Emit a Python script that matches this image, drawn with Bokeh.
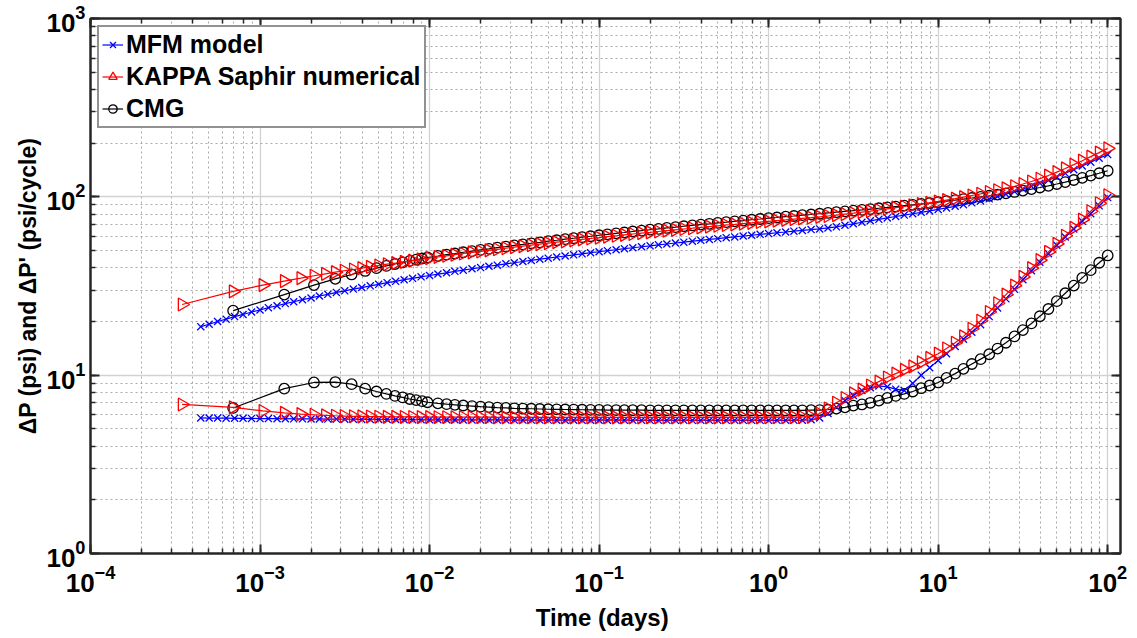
import numpy as np
from bokeh.plotting import figure
from bokeh.models import LogAxis, Legend, LegendItem, ColumnDataSource
from bokeh.embed import file_html
from bokeh.resources import INLINE

# ---------------- data ----------------
# Time grid of the MFM model (days)
T_MFM = [4.47e-4, 5.01e-4, 5.62e-4, 6.31e-4, 7.08e-4, 7.94e-4, 8.91e-4,
         1.00e-3, 1.12e-3, 1.26e-3, 1.41e-3, 1.58e-3, 1.78e-3, 2.00e-3, 2.24e-3, 2.51e-3, 2.82e-3,
         3.16e-3, 3.55e-3, 3.98e-3, 4.47e-3, 5.01e-3, 5.62e-3, 6.31e-3, 7.08e-3, 7.94e-3, 8.91e-3,
         0.0100, 0.0112, 0.0126, 0.0141, 0.0158, 0.0178, 0.0200, 0.0224, 0.0251, 0.0282,
         0.0316, 0.0355, 0.0398, 0.0447, 0.0501, 0.0562, 0.0631, 0.0708, 0.0794, 0.0891,
         0.100, 0.112, 0.126, 0.141, 0.158, 0.178, 0.200, 0.224, 0.251, 0.282,
         0.316, 0.355, 0.398, 0.447, 0.501, 0.562, 0.631, 0.708, 0.794, 0.891,
         1.00, 1.12, 1.26, 1.41, 1.58, 1.78, 2.00, 2.24, 2.51, 2.82,
         3.16, 3.55, 3.98, 4.47, 5.01, 5.62, 6.31, 7.08, 7.94, 8.91,
         10.0, 11.2, 12.6, 14.1, 15.8, 17.8, 20.0, 22.4, 25.1, 28.2,
         31.6, 35.5, 39.8, 44.7, 50.1, 56.2, 63.1, 70.8, 79.4, 89.1,
         100.0]

MFM_P = [18.7, 19.3, 20.0, 20.6, 21.3, 21.9, 22.6,
         23.2, 23.9, 24.5, 25.2, 25.8, 26.5, 27.1, 27.8, 28.4, 29.1,
         29.7, 30.4, 31.0, 31.7, 32.3, 33.0, 33.6, 34.3, 34.9, 35.6,
         36.2, 36.9, 37.5, 38.2, 38.8, 39.5, 40.1, 40.8, 41.4, 42.1,
         42.7, 43.4, 44.0, 44.7, 45.3, 46.0, 46.6, 47.3, 47.9, 48.6,
         49.2, 49.9, 50.5, 51.2, 51.8, 52.5, 53.1, 53.8, 54.4, 55.1,
         55.7, 56.4, 57.0, 57.7, 58.3, 59.0, 59.6, 60.3, 60.9, 61.6,
         62.2, 62.9, 63.5, 64.2, 64.8, 65.5, 66.1, 66.9, 67.9, 69.3,
         70.6, 72.0, 73.4, 74.8, 76.2, 77.6, 79.0, 80.4, 81.9, 83.4,
         85.0, 86.7, 88.5, 90.4, 92.5, 94.8, 97.4, 100.3, 103.5, 107.0,
         110.7, 114.7, 119.1, 124.0, 129.5, 135.5, 142.0, 149.0, 156.5, 164.5, 172.5]

MFM_D = [5.76, 5.75, 5.75, 5.74, 5.73, 5.73, 5.72, 5.71, 5.71, 5.70, 5.70,
         5.69, 5.69, 5.68, 5.68, 5.67, 5.67, 5.66, 5.66, 5.65, 5.65,
         5.64, 5.64, 5.64, 5.63, 5.63, 5.63, 5.62, 5.62, 5.62, 5.62,
         5.61, 5.61, 5.61, 5.61, 5.61, 5.60, 5.60, 5.60, 5.60, 5.60,
         5.60, 5.59, 5.59, 5.59, 5.59, 5.59, 5.59, 5.59, 5.59, 5.59,
         5.58, 5.58, 5.58, 5.58, 5.58, 5.58, 5.58, 5.58, 5.58, 5.58,
         5.58, 5.58, 5.58, 5.58, 5.58, 5.58, 5.58, 5.58, 5.58, 5.58,
         5.59, 5.62,
         5.75, 6.1, 6.6, 7.2, 7.7, 8.2, 8.5, 8.7, 8.6, 8.35, 8.2, 9.0,
         10.0, 11.0, 12.1, 13.2, 14.5, 15.9, 17.4, 19.2, 21.3, 23.8,
         26.8, 30.3, 34.3, 38.5, 43.0, 48.0, 53.5, 59.5, 66.0, 73.0,
         80.5, 89.0, 99.0]

KAPPA_T_EARLY = [3.47e-4, 6.94e-4, 1.04e-3, 1.39e-3, 1.74e-3, 2.08e-3, 2.43e-3, 2.78e-3, 3.13e-3]
KAPPA_T = KAPPA_T_EARLY + T_MFM[18:]

KAPPA_P = [24.9, 29.5, 32.0, 33.7, 35.0, 36.1, 37.0, 37.8, 38.5,
           39.1, 39.8, 40.5, 41.2, 41.9, 42.5, 43.2, 43.9, 44.6, 45.3,
           46.0, 46.7, 47.4, 48.1, 48.8, 49.4, 50.1, 50.8, 51.5, 52.2,
           52.9, 53.6, 54.3, 55.0, 55.7, 56.3, 57.0, 57.7, 58.4, 59.1,
           59.8, 60.5, 61.2, 61.9, 62.6, 63.2, 63.9, 64.6, 65.3, 66.0,
           66.7, 67.4, 68.1, 68.8, 69.5, 70.1, 70.8, 71.5, 72.2, 72.9,
           73.6, 74.3, 75.0, 75.7, 76.4, 77.2, 78.1, 79.0, 80.0, 81.0,
           82.1, 83.2, 84.4, 85.7, 87.0, 88.3, 89.7, 91.1, 92.6, 94.2,
           95.9, 97.7, 99.6, 101.7, 104.0, 106.4, 108.9, 111.6, 114.6, 118.0,
           121.9, 126.4, 131.6, 137.6, 144.3, 151.6, 159.5, 168.0, 177.0, 187.0]

KAPPA_D = [6.85, 6.6, 6.3, 6.15, 6.05, 6.0, 5.95, 5.92, 5.9,
           5.88, 5.87, 5.86, 5.85, 5.84, 5.84, 5.83, 5.83, 5.82, 5.82,
           5.81, 5.81, 5.81, 5.81, 5.81, 5.81, 5.81, 5.80, 5.80, 5.80,
           5.80, 5.80, 5.80, 5.80, 5.80, 5.80, 5.80, 5.80, 5.80, 5.80,
           5.80, 5.80, 5.80, 5.80, 5.80, 5.80, 5.80, 5.80, 5.80, 5.80,
           5.80, 5.80, 5.80, 5.80, 5.80, 5.80, 5.80, 5.80, 5.80, 5.81,
           5.81, 5.81, 5.82, 5.83, 5.85, 6.1, 6.5, 7.0, 7.45, 7.9,
           8.3, 8.75, 9.2, 9.7, 10.2, 10.7, 11.2, 11.8, 12.5, 13.2,
           14.1, 15.2, 16.5, 18.2, 20.2, 22.6, 25.3, 28.3, 31.8, 35.6,
           39.8, 44.2, 49.1, 54.5, 60.5, 67.0, 74.5, 83.0, 92.0, 102.0]

CMG_T_EARLY = [6.94e-4, 1.39e-3, 2.08e-3, 2.78e-3, 3.47e-3, 4.17e-3, 4.86e-3,
               5.56e-3, 6.25e-3, 6.94e-3, 7.64e-3, 8.33e-3, 9.03e-3, 9.72e-3]
CMG_T = CMG_T_EARLY + T_MFM[28:]

CMG_P = [23.0, 28.3, 32.0, 34.7, 36.7, 38.4, 39.8, 41.0, 42.0, 42.9, 43.7, 44.4, 45.1, 45.7,
         46.6, 47.4, 48.1, 48.9, 49.6, 50.4, 51.1, 51.9, 52.6, 53.4,
         54.1, 54.9, 55.6, 56.4, 57.1, 57.9, 58.6, 59.4, 60.1, 60.9,
         61.6, 62.4, 63.1, 63.9, 64.6, 65.4, 66.1, 66.9, 67.6, 68.4,
         69.1, 69.9, 70.6, 71.4, 72.1, 72.9, 73.6, 74.4, 75.1, 75.9,
         76.6, 77.4, 78.1, 78.9, 79.6, 80.4, 81.2, 82.0, 82.8, 83.6,
         84.5, 85.4, 86.3, 87.2, 88.2, 89.2, 90.2, 91.2, 92.3, 93.5,
         94.7, 95.9, 97.2, 98.5, 99.9, 101.4, 103.0, 104.7, 106.5, 108.4,
         110.5, 112.8, 115.3, 118.0, 121.0, 124.3, 127.8, 131.6, 135.6, 140.0]

CMG_D = [6.55, 8.4, 9.1, 9.15, 8.9, 8.4, 8.1, 7.85, 7.65, 7.5, 7.35, 7.25, 7.15, 7.05,
         6.95, 6.88, 6.82, 6.76, 6.71, 6.66, 6.62, 6.58, 6.55, 6.52,
         6.50, 6.48, 6.46, 6.44, 6.43, 6.42, 6.41, 6.40, 6.39, 6.38,
         6.37, 6.37, 6.36, 6.36, 6.36, 6.35, 6.35, 6.35, 6.35, 6.35,
         6.34, 6.34, 6.34, 6.34, 6.34, 6.34, 6.34, 6.34, 6.34, 6.34,
         6.34, 6.34, 6.34, 6.35, 6.36, 6.37, 6.40, 6.50, 6.60, 6.75,
         6.85, 7.0, 7.2, 7.45, 7.65, 7.85, 8.1, 8.45, 8.75, 9.1,
         9.65, 10.2, 10.85, 11.55, 12.3, 13.1, 14.1, 15.2, 16.5, 17.9,
         19.5, 21.4, 23.5, 26.0, 28.8, 31.8, 35.1, 38.8, 42.7, 46.9]

SERIES_NAMES = ["MFM model", "KAPPA Saphir numerical", "CMG"]
X_RANGE = (1e-4, 119.0)
Y_RANGE = (1.0, 1000.0)
X_LABEL = "Time  (days)"
Y_LABEL = "\u0394P (psi) and \u0394P' (psi/cycle)"

# ---------------- figure ----------------
FONT = "Liberation Sans"
AX = "#262626"

p = figure(x_axis_type="log", y_axis_type="log", x_range=X_RANGE, y_range=Y_RANGE,
           frame_width=1030, frame_height=535,
           min_border_left=90, min_border_right=17, min_border_top=18, min_border_bottom=85,
           output_backend="svg", toolbar_location=None,
           background_fill_color="white", border_fill_color="white")

p.outline_line_color = AX
p.outline_line_width = 2

xa = p.below[0]
ya = p.left[0]

# grids
for g in (p.xgrid[0], p.ygrid[0]):
    g.grid_line_color = "#d2d2d2"
    g.grid_line_width = 1.3
    g.minor_grid_line_color = "#a9a9a9"
    g.minor_grid_line_width = 1
    g.minor_grid_line_dash = "2 3"

# extra axes for mirrored ticks (labels invisible)
top_axis = LogAxis(major_label_text_font_size="1px", major_label_text_alpha=0.0,
                   major_label_standoff=0)
right_axis = LogAxis(major_label_text_font_size="1px", major_label_text_alpha=0.0,
                     major_label_standoff=0)
p.add_layout(top_axis, "above")
p.add_layout(right_axis, "right")

for ax in (xa, ya, top_axis, right_axis):
    ax.axis_line_color = AX
    ax.axis_line_width = 2
    ax.major_tick_line_color = AX
    ax.minor_tick_line_color = AX
    ax.major_tick_line_width = 2
    ax.minor_tick_line_width = 1.5
    ax.major_tick_in = 9
    ax.major_tick_out = 0
    ax.minor_tick_in = 5
    ax.minor_tick_out = 0

for ax in (xa, ya):
    ax.major_label_text_font = FONT
    ax.major_label_text_font_style = "bold"
    ax.major_label_text_font_size = "26px"
    ax.major_label_text_color = "black"
    ax.axis_label_text_font = FONT
    ax.axis_label_text_font_style = "bold"
    ax.axis_label_text_color = "black"

xa.axis_label = X_LABEL
xa.axis_label_text_font_size = "24px"
xa.major_label_standoff = 11
xa.axis_label_standoff = 9
ya.axis_label = Y_LABEL
ya.axis_label_text_font_size = "23px"
ya.major_label_standoff = 5
ya.axis_label_standoff = 2

# ---------------- curves ----------------
def draw(t, v, color, marker, size, angle=0.0):
    src = ColumnDataSource(dict(t=t, v=v))
    ln = p.line("t", "v", source=src, line_color=color, line_width=1.2)
    sc = p.scatter("t", "v", source=src, marker=marker, size=size, angle=angle,
                   line_color=color, fill_color=None, line_width=1.3)
    return ln, sc

assert len(T_MFM) == len(MFM_P) == len(MFM_D)
assert len(KAPPA_T) == len(KAPPA_P) == len(KAPPA_D)
assert len(CMG_T) == len(CMG_P) == len(CMG_D)

cmg_r = draw(CMG_T, CMG_P, "black", "circle", 10.5)
draw(CMG_T, CMG_D, "black", "circle", 10.5)
mfm_r = draw(T_MFM, MFM_P, "#0000ff", "x", 10)
draw(T_MFM, MFM_D, "#0000ff", "x", 10)
kap_r = draw(KAPPA_T, KAPPA_P, "#ff0000", "triangle", 13, angle=-np.pi / 2)
draw(KAPPA_T, KAPPA_D, "#ff0000", "triangle", 13, angle=-np.pi / 2)

legend = Legend(items=[LegendItem(label=SERIES_NAMES[0], renderers=list(mfm_r)),
                       LegendItem(label=SERIES_NAMES[1], renderers=list(kap_r)),
                       LegendItem(label=SERIES_NAMES[2], renderers=list(cmg_r))],
                location="top_left", margin=7, padding=3, spacing=3,
                label_text_font=FONT, label_text_font_style="bold",
                label_text_font_size="25px", label_text_color="black",
                label_height=29, glyph_height=29, glyph_width=21, label_standoff=3,
                border_line_color=AX, border_line_width=2,
                background_fill_color="white", background_fill_alpha=1.0)
p.add_layout(legend)

open("out.html", "w").write(file_html(p, INLINE))
